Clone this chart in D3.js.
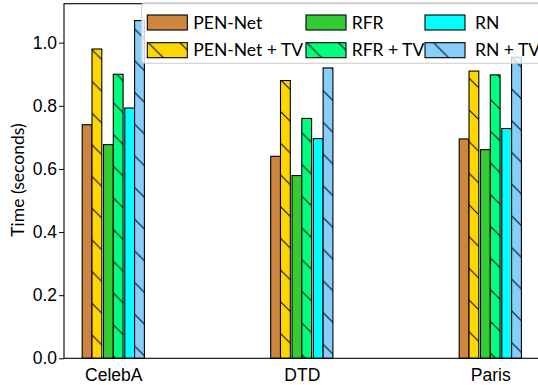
<!DOCTYPE html>
<html>
<head>
<meta charset="utf-8">
<script src="https://cdn.jsdelivr.net/npm/d3@7"></script>
<style>
  body { margin: 0; background: #fff; }
  svg { display: block; font-family: Lato, "DejaVu Sans", sans-serif; }
  .axis path, .axis line { stroke: #000; }
  .axis text { fill: #000; font-size: 17.5px; }
</style>
</head>
<body>
<svg id="chart" width="538" height="385"></svg>
<script>
const categories = ["CelebA", "DTD", "Paris"];
const seriesNames = ["PEN-Net", "PEN-Net + TV", "RFR", "RFR + TV", "RN", "RN + TV"];
const penNet = [0.74, 0.64, 0.695];
const penNetTV = [0.98, 0.88, 0.91];
const rfr = [0.677, 0.579, 0.661];
const rfrTV = [0.90, 0.76, 0.898];
const rn = [0.793, 0.696, 0.728];
const rnTV = [1.07, 0.92, 0.954];
const yTicks = [0, 0.2, 0.4, 0.6, 0.8, 1.0];

const seriesValues = [penNet, penNetTV, rfr, rfrTV, rn, rnTV];
const colors = ["#CD853F", "#FFD700", "#32CD32", "#00FF7F", "#00FFFF", "#87CEFA"];
const hatched = [false, true, false, true, false, true];

const svg = d3.select("#chart");
const plotLeft = 64, plotRight = 539.6, plotTop = 3.7, plotBottom = 358.3;

const x = d3.scaleLinear().domain([-0.2615, 2.2615]).range([plotLeft, plotRight]);
const y = d3.scaleLinear().domain([0, 1.1235]).range([plotBottom, plotTop]);

// hatch "\" tied to page coordinates, like matplotlib
const P = 31.7;
svg.append("defs")
  .append("pattern")
  .attr("id", "hatch")
  .attr("patternUnits", "userSpaceOnUse")
  .attr("x", 10.5)
  .attr("y", 0)
  .attr("width", P)
  .attr("height", P)
  .append("path")
  .attr("d", `M0,0L${P},${P}M${-2},${P - 2}L2,${P + 2}M${P - 2},-2L${P + 2},2`)
  .attr("stroke", "#000")
  .attr("stroke-width", 1)
  .attr("fill", "none");

// bar layout: three pairs per group
const w = 0.052, pairStep = 0.113;
const offset = i => (Math.floor(i / 2) - 1) * pairStep + (i % 2 === 0 ? -w : 0);

const bars = [];
seriesValues.forEach((vals, s) => {
  vals.forEach((v, c) => bars.push({ s, c, v }));
});

const g = svg.append("g");
bars.forEach(d => {
  const x0 = x(d.c + offset(d.s));
  const x1 = x(d.c + offset(d.s) + w);
  const rect = () => g.append("rect")
    .attr("x", x0).attr("y", y(d.v))
    .attr("width", x1 - x0).attr("height", y(0) - y(d.v));
  rect().attr("fill", colors[d.s]);
  if (hatched[d.s]) rect().attr("fill", "url(#hatch)");
  rect().attr("fill", "none").attr("stroke", "#000").attr("stroke-width", 1.1);
});

// axes
svg.append("g")
  .attr("class", "axis")
  .attr("transform", `translate(${plotLeft},0)`)
  .call(d3.axisLeft(y).tickValues(yTicks).tickFormat(d3.format(".1f")).tickSize(5).tickPadding(2));

svg.append("g")
  .attr("class", "axis")
  .attr("transform", `translate(0,${plotBottom})`)
  .call(d3.axisBottom(x).tickValues([0, 1, 2]).tickFormat(i => categories[i]).tickSize(0).tickPadding(10));

svg.selectAll(".axis .domain").remove();
svg.append("rect")
  .attr("x", plotLeft).attr("y", plotTop)
  .attr("width", plotRight - plotLeft).attr("height", plotBottom - plotTop)
  .attr("fill", "none").attr("stroke", "#000").attr("stroke-width", 1.1);

svg.append("text")
  .attr("transform", `translate(24,180) rotate(-90)`)
  .attr("text-anchor", "middle")
  .style("font-size", "17.5px")
  .text("Time (seconds)");

// legend
const legend = svg.append("g");
legend.append("rect")
  .attr("x", 141.7).attr("y", 2.7)
  .attr("width", 400).attr("height", 60.6)
  .attr("rx", 3)
  .attr("fill", "#fff").attr("fill-opacity", 0.8)
  .attr("stroke", "#cccccc").attr("stroke-width", 1);

const colPatchX = [147.3, 306, 425];
const colTextX = [193.3, 351.7, 475];
const rowY = [15, 42.7];
seriesNames.forEach((name, i) => {
  const col = Math.floor(i / 2), row = i % 2;
  const patch = () => legend.append("rect")
    .attr("x", colPatchX[col]).attr("y", rowY[row])
    .attr("width", 40).attr("height", 15);
  patch().attr("fill", colors[i]);
  if (hatched[i]) patch().attr("fill", "url(#hatch)");
  patch().attr("fill", "none").attr("stroke", "#000").attr("stroke-width", 1.1);
  legend.append("text")
    .attr("x", colTextX[col]).attr("y", rowY[row] + 7.5)
    .attr("dy", "0.35em")
    .style("font-size", "17.5px")
    .text(name);
});
</script>
</body>
</html>
